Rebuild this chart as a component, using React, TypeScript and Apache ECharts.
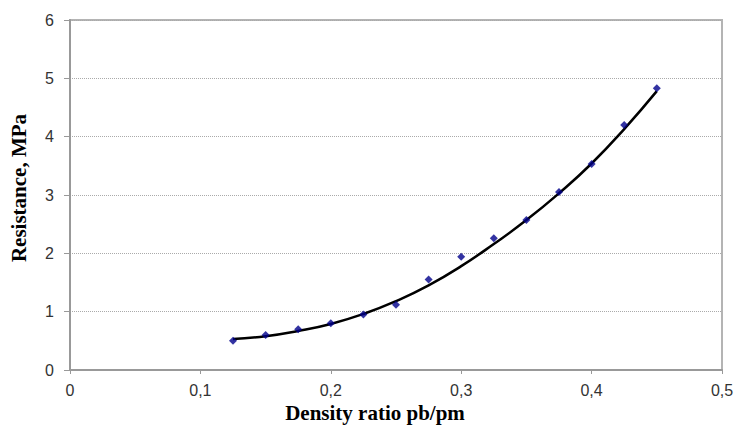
import React, { useEffect, useRef } from "react";
import * as echarts from "echarts";

const densityRatio = [0.125, 0.15, 0.175, 0.2, 0.225, 0.25, 0.275, 0.3, 0.325, 0.35, 0.375, 0.4, 0.425, 0.45];
const measured = [0.5, 0.6, 0.7, 0.8, 0.95, 1.12, 1.55, 1.94, 2.26, 2.57, 3.05, 3.53, 4.2, 4.83];
const trend = [0.53, 0.58, 0.67, 0.79, 0.96, 1.18, 1.45, 1.78, 2.16, 2.57, 3.03, 3.54, 4.13, 4.78];
const xTitle = "Density ratio pb/pm";
const yTitle = "Resistance, MPa";

export default function App() {
  const ref = useRef<HTMLDivElement>(null);
  useEffect(() => {
    const chart = echarts.init(ref.current!, null, { renderer: "svg" });
    chart.setOption({
      animation: false,
      backgroundColor: "#ffffff",
      grid: {
        left: 70,
        right: 16,
        top: 20,
        bottom: 57,
        show: true,
        borderColor: "#b4b4b4",
        borderWidth: 2,
      },
      xAxis: {
        type: "value",
        min: 0,
        max: 0.5,
        interval: 0.1,
        axisLine: { show: true, lineStyle: { color: "#999999", width: 2 } },
        axisTick: { show: true, length: 4, inside: false, lineStyle: { color: "#999999", width: 1 } },
        splitLine: { show: false },
        axisLabel: {
          margin: 12,
          color: "#333333",
          fontFamily: "Liberation Sans",
          fontSize: 16,
          formatter: (v: number) => (Math.round(v * 10) / 10).toString().replace(".", ","),
        },
      },
      yAxis: {
        type: "value",
        min: 0,
        max: 6,
        interval: 1,
        axisLine: { show: true, lineStyle: { color: "#999999", width: 2 } },
        axisTick: { show: true, length: 6, lineStyle: { color: "#999999", width: 1 } },
        splitLine: { show: true, lineStyle: { color: "#aaaaaa", type: "dotted", width: 1 } },
        axisLabel: {
          margin: 16,
          color: "#333333",
          fontFamily: "Liberation Sans",
          fontSize: 16,
        },
      },
      graphic: [
        {
          type: "text",
          x: 375,
          y: 413,
          style: {
            text: xTitle,
            fontFamily: "Liberation Serif",
            fontWeight: "bold",
            fontSize: 21,
            fill: "#000000",
            align: "center",
            verticalAlign: "middle",
          },
        },
        {
          type: "text",
          x: 19,
          y: 188,
          rotation: Math.PI / 2,
          style: {
            text: yTitle,
            fontFamily: "Liberation Serif",
            fontWeight: "bold",
            fontSize: 21,
            fill: "#000000",
            align: "center",
            verticalAlign: "middle",
          },
        },
      ],
      series: [
        {
          type: "line",
          data: densityRatio.map((x, i) => [x, trend[i]]),
          smooth: true,
          showSymbol: false,
          lineStyle: { color: "#000000", width: 2.5 },
          z: 2,
        },
        {
          type: "scatter",
          data: densityRatio.map((x, i) => [x, measured[i]]),
          symbol: "diamond",
          symbolSize: 8,
          itemStyle: { color: "#00008b" },
          z: 3,
        },
      ],
    });
    return () => chart.dispose();
  }, []);
  return (
    <div
      ref={ref}
      style={{ position: "absolute", left: 0, top: 0, width: 738, height: 427 }}
    />
  );
}
